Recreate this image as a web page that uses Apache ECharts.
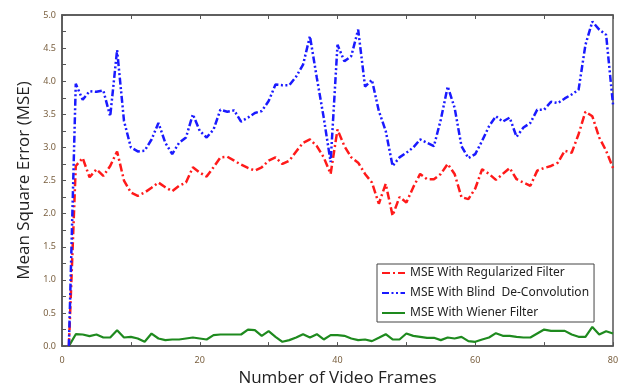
<!DOCTYPE html>
<html><head><meta charset="utf-8">
<script src="https://cdn.jsdelivr.net/npm/echarts@6/dist/echarts.min.js"></script>
<style>html,body{margin:0;padding:0;background:#fff}#c{width:625px;height:392px}</style>
</head><body><div id="c"></div>
<script>
const frames = [1,2,3,4,5,6,7,8,9,10,11,12,13,14,15,16,17,18,19,20,21,22,23,24,25,26,27,28,29,30,31,32,33,34,35,36,37,38,39,40,41,42,43,44,45,46,47,48,49,50,51,52,53,54,55,56,57,58,59,60,61,62,63,64,65,66,67,68,69,70,71,72,73,74,75,76,77,78,79,80];
const seriesNames = ['MSE With Regularized Filter', 'MSE With Blind  De-Convolution', 'MSE With Wiener Filter'];
const regularized = [0,2.72,2.84,2.55,2.67,2.57,2.72,2.94,2.5,2.32,
 2.27,2.32,2.39,2.47,2.4,2.34,2.42,2.47,2.7,2.62,
 2.56,2.7,2.85,2.86,2.8,2.74,2.69,2.65,2.7,2.8,
 2.85,2.75,2.8,2.94,3.07,3.12,3.02,2.85,2.6,3.27,
 3.02,2.85,2.77,2.6,2.47,2.15,2.45,1.97,2.25,2.17,
 2.4,2.6,2.52,2.52,2.6,2.75,2.6,2.25,2.22,2.38,
 2.67,2.6,2.51,2.6,2.69,2.52,2.47,2.42,2.65,2.69,
 2.72,2.77,2.95,2.92,3.2,3.54,3.47,3.15,2.95,2.69];
const blind = [0,3.96,3.72,3.85,3.84,3.86,3.47,4.47,3.4,3.0,
 2.94,2.95,3.12,3.37,3.07,2.9,3.07,3.15,3.5,3.25,
 3.15,3.27,3.57,3.54,3.56,3.39,3.45,3.52,3.55,3.7,
 3.95,3.94,3.94,4.07,4.25,4.68,4.05,3.45,2.78,4.55,
 4.3,4.38,4.78,3.92,4.02,3.55,3.25,2.72,2.85,2.92,
 3.0,3.12,3.07,3.02,3.42,3.92,3.6,3.02,2.84,2.9,
 3.1,3.32,3.47,3.39,3.45,3.16,3.3,3.37,3.57,3.57,
 3.69,3.67,3.74,3.8,3.87,4.55,4.9,4.78,4.7,3.65];
const wiener = [0,0.18,0.175,0.15,0.175,0.13,0.13,0.24,0.13,0.14,
 0.115,0.065,0.19,0.115,0.09,0.1,0.1,0.115,0.13,0.115,
 0.1,0.165,0.175,0.175,0.175,0.175,0.25,0.24,0.155,0.225,
 0.14,0.065,0.09,0.13,0.18,0.13,0.18,0.1,0.165,0.165,
 0.155,0.115,0.09,0.1,0.075,0.125,0.18,0.1,0.1,0.19,
 0.155,0.14,0.125,0.125,0.09,0.13,0.115,0.14,0.075,0.065,
 0.1,0.13,0.195,0.155,0.155,0.14,0.13,0.13,0.19,0.25,
 0.23,0.23,0.23,0.175,0.14,0.14,0.29,0.175,0.225,0.19];
const xTitle = 'Number of Video Frames';
const yTitle = 'Mean Square Error (MSE)';

const pair = arr => frames.map((f, i) => [f, arr[i]]);
const tickColor = '#7a6040';
const frameColor = '#555';

const chart = echarts.init(document.getElementById('c'), null, {renderer: 'canvas'});
chart.setOption({
  animation: false,
  backgroundColor: '#fff',
  textStyle: {fontFamily: 'Noto Sans'},
  grid: {left: 62, top: 15, right: 12, bottom: 44, show: true, borderColor: frameColor, borderWidth: 1.5, backgroundColor: 'transparent'},
  legend: {
    orient: 'vertical', left: 377, top: 264,
    backgroundColor: '#fff', borderColor: '#444', borderWidth: 1, borderRadius: 0,
    padding: [3, 5, 3, 4], itemWidth: 23, itemHeight: 10, itemGap: 8,
    itemStyle: {opacity: 0},
    textStyle: {fontSize: 12, color: '#222', fontFamily: 'Noto Sans'},
    data: seriesNames
  },
  xAxis: [{
    type: 'value', min: 0, max: 80, interval: 10,
    name: xTitle, nameLocation: 'middle', nameGap: 22,
    nameTextStyle: {fontSize: 17, color: '#222', fontFamily: 'Open Sans'},
    axisLine: {show: true, lineStyle: {color: frameColor, width: 1.5}},
    axisTick: {show: true, inside: true, length: 4, lineStyle: {color: frameColor}},
    axisLabel: {fontSize: 9, color: tickColor, margin: 10, formatter: v => (v % 20 === 0 ? String(v) : '')},
    splitLine: {show: false}
  }, {
    type: 'value', min: 0, max: 80, interval: 10, position: 'top',
    axisLine: {show: true, lineStyle: {color: frameColor, width: 1.5}},
    axisTick: {show: true, inside: true, length: 4, lineStyle: {color: frameColor}},
    axisLabel: {show: false}, splitLine: {show: false}
  }],
  yAxis: [{
    type: 'value', min: 0, max: 5, interval: 0.25,
    name: yTitle, nameLocation: 'middle', nameGap: 28,
    nameTextStyle: {fontSize: 17, color: '#222', fontFamily: 'Open Sans'},
    axisLine: {show: true, lineStyle: {color: frameColor, width: 1.5}},
    axisTick: {show: true, inside: true, length: 4, lineStyle: {color: frameColor}},
    axisLabel: {fontSize: 9, color: tickColor, margin: 6, formatter: v => (Math.abs(v * 2 - Math.round(v * 2)) < 1e-6 ? v.toFixed(1) : '')},
    splitLine: {show: false}
  }],
  series: [{
    name: seriesNames[0], type: 'line', data: pair(regularized), xAxisIndex: 0,
    symbol: 'none', showSymbol: false, z: 3,
    lineStyle: {color: '#ff1a1a', width: 2.5, type: [8, 3, 2, 3]},
    itemStyle: {color: '#ff1a1a'}
  }, {
    name: seriesNames[1], type: 'line', data: pair(blind), xAxisIndex: 0,
    symbol: 'none', showSymbol: false, z: 4,
    lineStyle: {color: '#1a1aff', width: 2.5, type: [7, 2.5, 2, 2.5, 2, 2.5]},
    itemStyle: {color: '#1a1aff'}
  }, {
    name: seriesNames[2], type: 'line', data: pair(wiener), xAxisIndex: 0,
    symbol: 'none', showSymbol: false, z: 2,
    lineStyle: {color: '#1e8a1e', width: 2.2, type: 'solid'},
    itemStyle: {color: '#1e8a1e'}
  }]
});
</script></body></html>
